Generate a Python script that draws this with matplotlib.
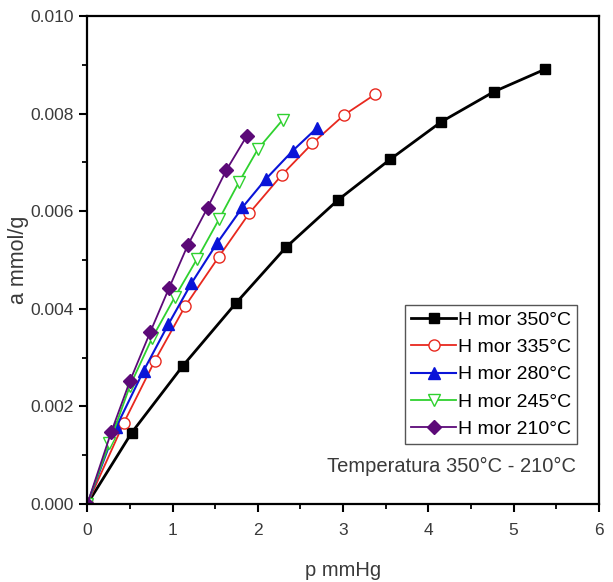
import numpy as np
import matplotlib.pyplot as plt
from matplotlib.ticker import MultipleLocator

plt.rcParams['font.family'] = ['Liberation Sans', 'DejaVu Sans']

# Adsorption isotherms, p in mmHg, a in mmol/g (read in units of 0.001)
p_350 = [0, 0.52, 1.12, 1.74, 2.33, 2.94, 3.55, 4.15, 4.77, 5.37]
a_350 = [0, 1.46, 2.83, 4.11, 5.26, 6.23, 7.06, 7.83, 8.45, 8.91]

p_335 = [0, 0.43, 0.79, 1.15, 1.54, 1.90, 2.28, 2.64, 3.01, 3.38]
a_335 = [0, 1.67, 2.93, 4.06, 5.06, 5.96, 6.74, 7.39, 7.97, 8.40]

p_280 = [0, 0.34, 0.66, 0.95, 1.22, 1.52, 1.82, 2.10, 2.41, 2.69]
a_280 = [0, 1.58, 2.73, 3.68, 4.52, 5.34, 6.08, 6.67, 7.24, 7.70]

p_245 = [0, 0.26, 0.50, 0.76, 1.03, 1.29, 1.55, 1.78, 2.00, 2.29]
a_245 = [0, 1.25, 2.42, 3.40, 4.25, 5.03, 5.85, 6.60, 7.27, 7.87]

p_210 = [0, 0.28, 0.50, 0.74, 0.96, 1.18, 1.41, 1.63, 1.87]
a_210 = [0, 1.47, 2.52, 3.53, 4.43, 5.31, 6.07, 6.84, 7.54]

fig = plt.figure(figsize=(6.13, 5.82), dpi=100)
ax = fig.add_axes([0.1424, 0.134, 0.8346, 0.8385])


def sc(v):
    return np.array(v) / 1000.0


ax.plot(p_350, sc(a_350), color='black', lw=2.0, marker='s', ms=7,
        label='H mor 350°C')
ax.plot(p_335, sc(a_335), color='#e8281e', lw=1.3, marker='o', ms=8,
        mfc='white', mec='#e8281e', label='H mor 335°C')
ax.plot(p_280, sc(a_280), color='#0a14d8', lw=1.5, marker='^', ms=8,
        label='H mor 280°C')
ax.plot(p_245, sc(a_245), color='#2fd12f', lw=1.3, marker='v', ms=8,
        mfc='white', mec='#2fd12f', label='H mor 245°C')
ax.plot(p_210, sc(a_210), color='#5c0a78', lw=1.3, marker='D', ms=7,
        label='H mor 210°C')

ax.set_xlim(0, 6)
ax.set_ylim(0, 0.010)
ax.xaxis.set_major_locator(MultipleLocator(1))
ax.xaxis.set_minor_locator(MultipleLocator(0.5))
ax.yaxis.set_major_locator(MultipleLocator(0.002))
ax.yaxis.set_minor_locator(MultipleLocator(0.001))
ax.yaxis.set_major_formatter(plt.FuncFormatter(lambda v, pos: f"{v:.3f}"))

ax.tick_params(which='major', direction='out', length=6, width=1.5,
               labelsize=12.5, colors='black', labelcolor='#3a3a3a')
ax.tick_params(axis='x', which='major', pad=8)
ax.tick_params(which='minor', direction='out', length=3.5, width=1.3)
for s in ax.spines.values():
    s.set_linewidth(1.6)

ax.set_xlabel('p mmHg', fontsize=14.5, color='#3a3a3a', labelpad=16)
ax.set_ylabel('a mmol/g', fontsize=15.5, color='#3a3a3a', labelpad=1)

leg = ax.legend(loc='lower right', bbox_to_anchor=(0.957, 0.123),
                fontsize=14, handlelength=2.3, handletextpad=0.1,
                borderpad=0.3, labelspacing=0.5, fancybox=False,
                framealpha=1, borderaxespad=0)
leg.get_frame().set_edgecolor('#555555')
leg.get_frame().set_linewidth(1.0)

ax.text(0.955, 0.076, 'Temperatura 350°C - 210°C', transform=ax.transAxes,
        ha='right', va='center', fontsize=14.5, color='#3a3a3a')

fig.savefig('out.png', dpi=100)
